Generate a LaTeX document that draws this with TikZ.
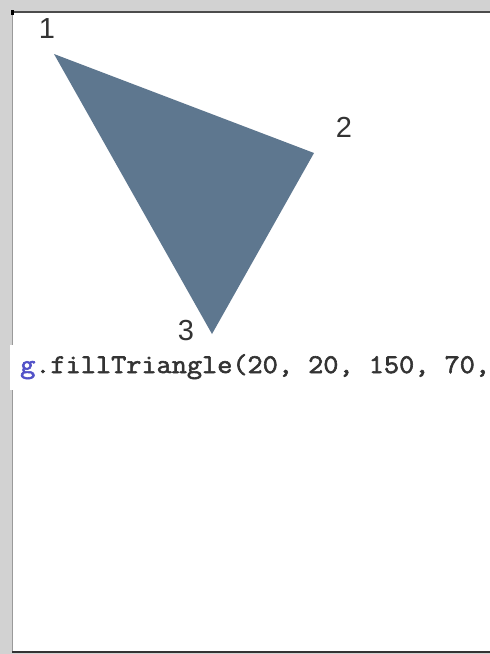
\documentclass[tikz,border=0pt]{standalone}
\usepackage{fontspec}
\setmainfont{Liberation Sans}
\newfontfamily\codefont[AutoFakeBold=2.2, FakeStretch=1.09]{Latin Modern Mono}
\usetikzlibrary{positioning}

\definecolor{marco}{HTML}{D2D2D2}
\definecolor{borde}{HTML}{9A9A9A}
\definecolor{relleno}{HTML}{5E778F}
\definecolor{texto}{HTML}{333333}
\definecolor{metodo}{HTML}{5252C8}

\begin{document}
\begin{tikzpicture}[
    x=1pt, y=-1pt,
    num/.style={font=\fontsize{29}{29}\selectfont, text=texto, inner sep=0pt},
    code/.style={font=\codefont\bfseries\fontsize{27}{27}\selectfont, text=texto, inner sep=0pt, anchor=base west}
]

\useasboundingbox (0,0) rectangle (490,654);

% Fondo
\fill[marco] (0,0) rectangle (490,654);
\fill[white] (12,12) rectangle (490,652);
\draw[borde, line width=1.5pt] (12.5,12) -- (12.5,652);
\draw[black!70, line width=1.6pt] (11,12) -- (490,12);
\draw[black!80, line width=1.2pt] (12,652) -- (490,652);
\fill[black] (10.5,10) rectangle (14,15);

% Vertices
\coordinate (p1) at (54,54);
\coordinate (p2) at (314,153);
\coordinate (p3) at (212,334);

% Triangulo
\fill[relleno] (p1) -- (p2) -- (p3) -- cycle;

% Etiquetas
\node[num] (n1) at (47,29) {1};
\node[num] (n2) at (344,127) {2};
\node[num] (n3) at (186,331) {3};

% Codigo
\fill[white] (10,345) rectangle (490,390);
\begin{scope}
\clip (10,345) rectangle (490,390);
\node[code] (call) at (20,373) {\textcolor{metodo}{g}.fillTriangle(20, 20, 150, 70,};
\end{scope}

\end{tikzpicture}
\end{document}
